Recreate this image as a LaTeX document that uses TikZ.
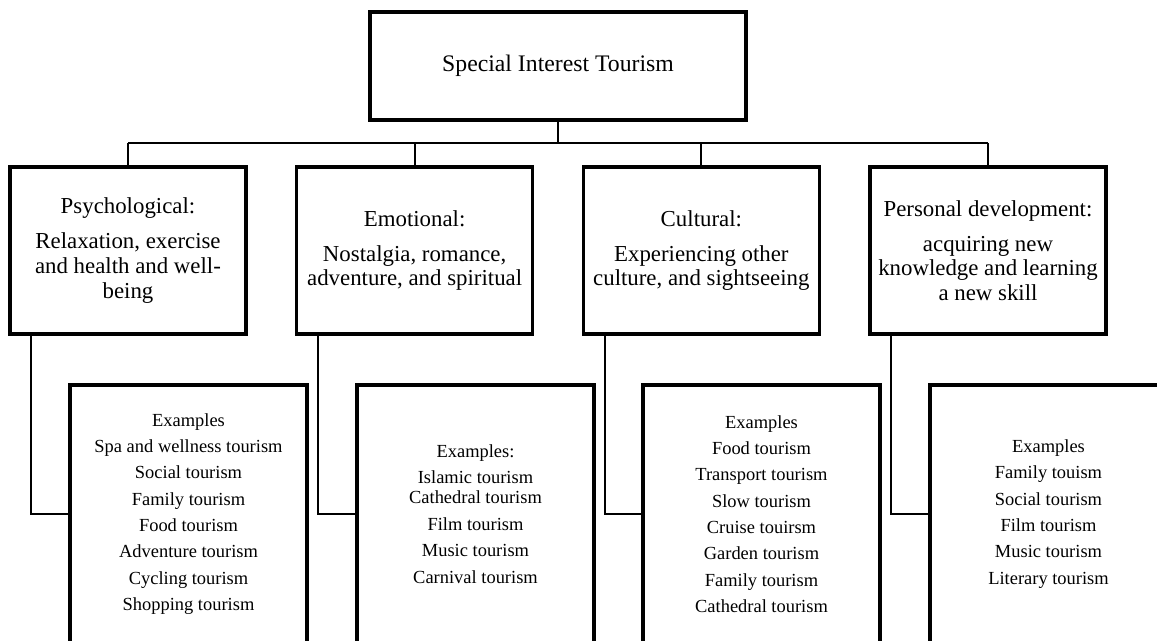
\documentclass[tikz,border=0pt]{standalone}
\usepackage{fontspec}
\setmainfont{Liberation Serif}
\usetikzlibrary{positioning,calc}

\begin{document}
\begin{tikzpicture}[
  topbox/.style={draw,line width=2pt,minimum width=7.52cm,minimum height=2.16cm,align=center,font=\fontsize{13.5}{16}\selectfont},
  catbox/.style={draw,line width=2pt,minimum width=4.72cm,minimum height=3.34cm,align=center,inner sep=2pt,font=\fontsize{13}{14}\selectfont},
  exbox/.style={draw,line width=2pt,minimum width=4.74cm,minimum height=5.16cm,align=center,font=\fontsize{10.5}{15}\selectfont},
  link/.style={line width=1.2pt}
]
\useasboundingbox (0,0) rectangle (23.14,12.82);
\clip (0,0) rectangle (23.14,12.82);

\node[topbox] (sit) at (11.16,11.5) {Special Interest Tourism};

\node[catbox] (psy) at (2.56,7.81) {Psychological:\\[6pt]Relaxation, exercise\\and health and well-\\being};
\node[catbox] (emo) at (8.293,7.81) {Emotional:\\[6pt]Nostalgia, romance,\\adventure, and spiritual};
\node[catbox] (cul) at (14.027,7.81) {Cultural:\\[6pt]Experiencing other\\culture, and sightseeing};
\node[catbox] (per) at (19.76,7.81) {Personal development:\\[6pt]acquiring new\\knowledge and learning\\a new skill};

\node[exbox] (psyex) at (3.77,2.54) {Examples\\Spa and wellness tourism\\Social tourism\\Family tourism\\Food tourism\\Adventure tourism\\Cycling tourism\\Shopping tourism};
\node[exbox] (emoex) at (9.51,2.54) {Examples:\\Islamic tourism\\[-3.6pt]Cathedral tourism\\Film tourism\\Music tourism\\Carnival tourism};
\node[exbox] (culex) at (15.23,2.54) {Examples\\Food tourism\\Transport tourism\\Slow tourism\\Cruise touirsm\\Garden tourism\\Family tourism\\Cathedral tourism};
\node[exbox] (perex) at (20.97,2.54) {Examples\\Family touism\\Social tourism\\Film tourism\\Music tourism\\Literary tourism};

\coordinate (bus) at (11.16,9.96);
\draw[link] (sit.south) -- (bus);
\draw[link] (psy.north |- bus) -- (per.north |- bus);
\foreach \c in {psy,emo,cul,per}
  \draw[link] (\c.north |- bus) -- (\c.north);
\foreach \c in {psy,emo,cul,per}
  \draw[link] ($(\c.south west)+(0.46,0)$) |- (\c ex.west);
\end{tikzpicture}
\end{document}
